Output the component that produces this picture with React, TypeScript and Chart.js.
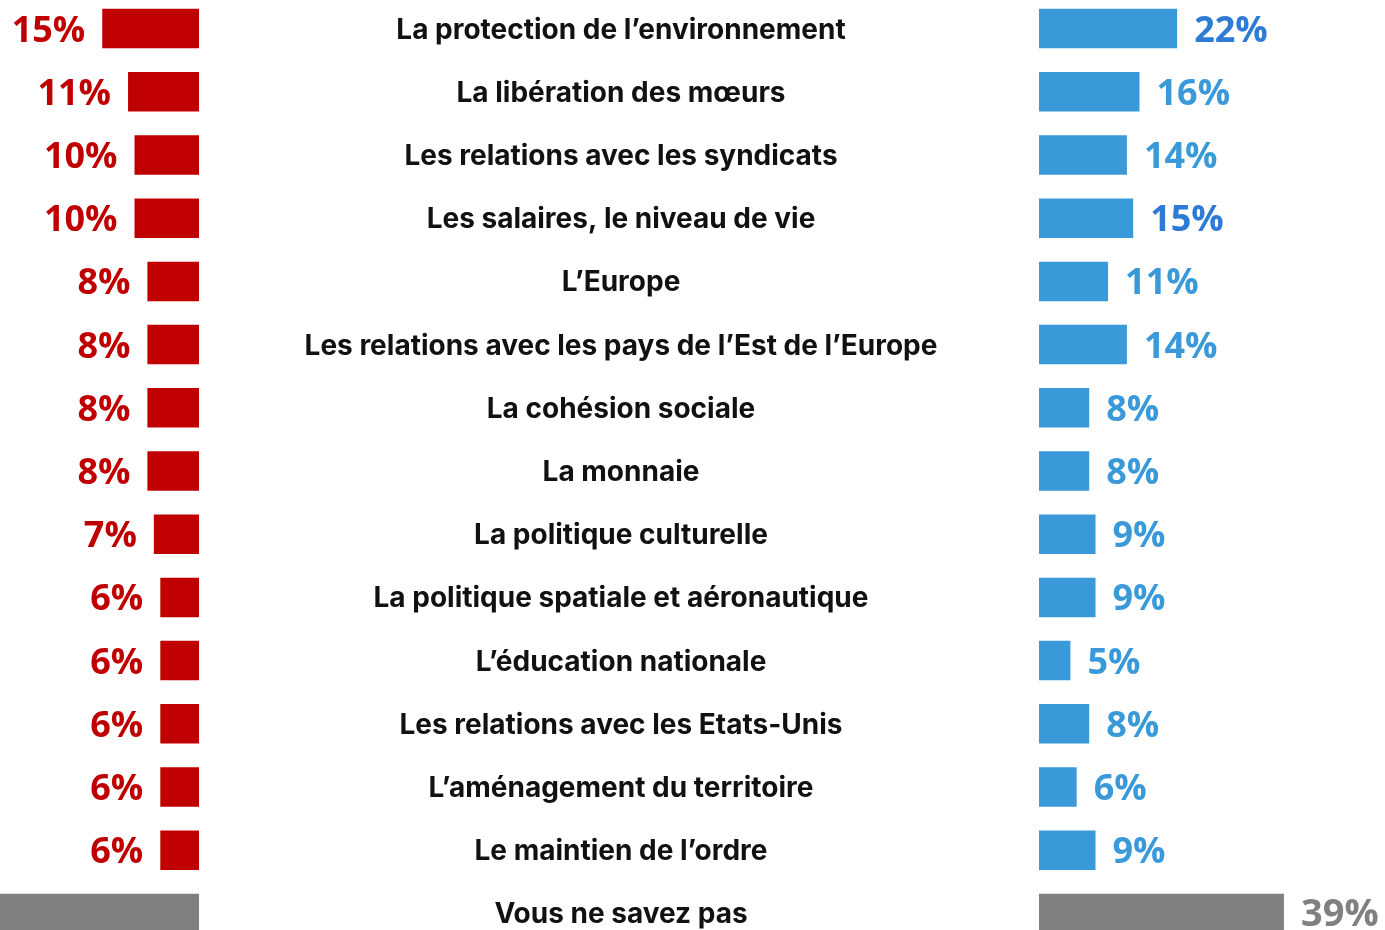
import React, { useEffect, useRef } from "react";
import { Chart, registerables } from "chart.js";

Chart.register(...registerables);

const categories = [
  "La protection de l’environnement",
  "La libération des mœurs",
  "Les relations avec les syndicats",
  "Les salaires, le niveau de vie",
  "L’Europe",
  "Les relations avec les pays de l’Est de l’Europe",
  "La cohésion sociale",
  "La monnaie",
  "La politique culturelle",
  "La politique spatiale et aéronautique",
  "L’éducation nationale",
  "Les relations avec les Etats-Unis",
  "L’aménagement du territoire",
  "Le maintien de l’ordre",
  "Vous ne savez pas",
];

const leftValues = [15, 11, 10, 10, 8, 8, 8, 8, 7, 6, 6, 6, 6, 6, 39];
const rightValues = [22, 16, 14, 15, 11, 14, 8, 8, 9, 9, 5, 8, 6, 9, 39];

const RED = "#C00000";
const BLUE = "#3A9AD9";
const BLUE_DARK = "#2E7BD6";
const GRAY = "#808080";

const leftBarColors = categories.map((_, i) => (i === categories.length - 1 ? GRAY : RED));
const rightBarColors = categories.map((_, i) => (i === categories.length - 1 ? GRAY : BLUE));
const leftLabelColors = leftBarColors;
const rightLabelColors = categories.map((_, i) =>
  i === categories.length - 1 ? GRAY : i === 0 || i === 3 ? BLUE_DARK : BLUE
);

const W = 1385;
const ROW = 63.2;
const H = ROW * categories.length;
const TOP = 28.3 - ROW / 2;
const LEFT_BASE = 199;
const RIGHT_BASE = 1039;
const KL = 6.45;
const KR = 6.28;

const labelPlugin = {
  id: "labels",
  afterDatasetsDraw(chart: any) {
    const ctx = chart.ctx;
    const left = chart.getDatasetMeta(0).data;
    const right = chart.getDatasetMeta(1).data;
    ctx.save();
    for (let i = 0; i < categories.length; i++) {
      const y = left[i].y;
      const last = i === categories.length - 1;
      // center label
      ctx.font = 'bold 28px "Inter"';
      ctx.fillStyle = "#111111";
      ctx.textAlign = "center";
      ctx.textBaseline = "alphabetic";
      ctx.fillText(categories[i], (LEFT_BASE + RIGHT_BASE) / 2 + 2, y + 10);
      // value labels
      ctx.font = last ? 'bold 38px "Open Sans"' : 'bold 36px "Open Sans"';
      ctx.textAlign = "right";
      ctx.fillStyle = leftLabelColors[i];
      ctx.fillText(leftValues[i] + "%", left[i].x - 17, y + 13);
      ctx.textAlign = "left";
      ctx.fillStyle = rightLabelColors[i];
      ctx.fillText(rightValues[i] + "%", right[i].x + 17, y + 13);
    }
    ctx.restore();
  },
};

export default function App() {
  const ref = useRef<HTMLCanvasElement | null>(null);
  useEffect(() => {
    document.body.style.margin = "0";
    const canvas = ref.current!;
    const chart = new Chart(canvas, {
      type: "bar",
      data: {
        labels: categories,
        datasets: [
          {
            data: leftValues,
            backgroundColor: leftBarColors,
            xAxisID: "xl",
            barPercentage: 0.625,
            categoryPercentage: 1,
            grouped: false,
          },
          {
            data: rightValues,
            backgroundColor: rightBarColors,
            xAxisID: "xr",
            barPercentage: 0.625,
            categoryPercentage: 1,
            grouped: false,
          },
        ],
      },
      options: {
        indexAxis: "y",
        responsive: false,
        animation: false,
        devicePixelRatio: 1,
        layout: { padding: 0 },
        plugins: { legend: { display: false }, tooltip: { enabled: false } },
        scales: {
          y: { type: "category", display: false, offset: true, grid: { display: false } },
          xl: {
            type: "linear",
            display: false,
            reverse: true,
            min: -(W - LEFT_BASE) / KL,
            max: LEFT_BASE / KL,
          },
          xr: {
            type: "linear",
            display: false,
            min: -RIGHT_BASE / KR,
            max: (W - RIGHT_BASE) / KR,
          },
        },
      },
      plugins: [labelPlugin],
    } as any);
    return () => chart.destroy();
  }, []);
  return (
    <div
      style={{
        position: "fixed",
        left: 0,
        top: 0,
        width: W,
        height: 930,
        overflow: "hidden",
        background: "#ffffff",
      }}
    >
      <canvas
        ref={ref}
        width={W}
        height={H}
        style={{ position: "absolute", left: 0, top: TOP, width: W, height: H }}
      />
    </div>
  );
}
